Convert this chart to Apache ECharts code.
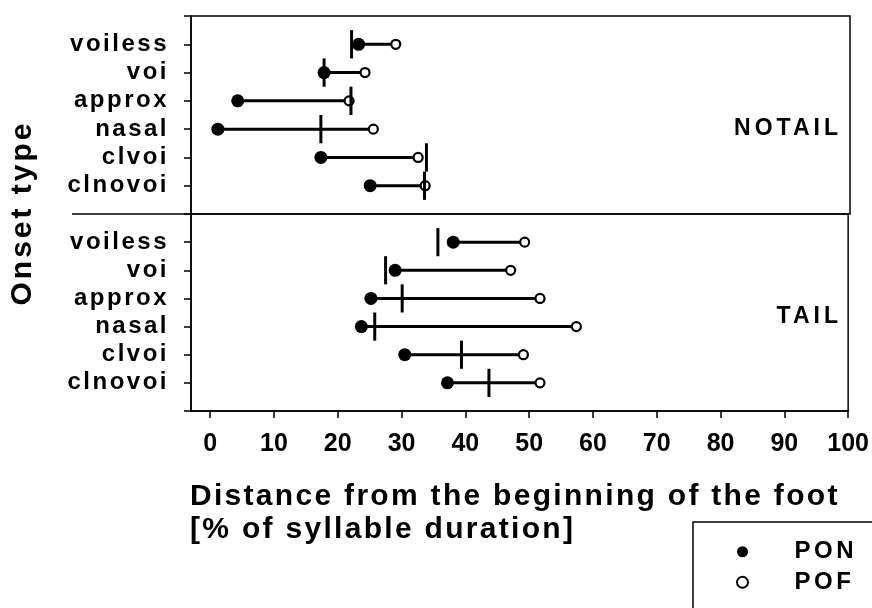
<!DOCTYPE html>
<html>
<head>
<meta charset="utf-8">
<script src="https://cdn.jsdelivr.net/npm/echarts@6/dist/echarts.min.js"></script>
<style>
html,body{margin:0;padding:0;background:#fff;}
#chart{width:872px;height:608px;}
</style>
</head>
<body>
<div id="chart"></div>
<script>
// Canvas letter spacing via a font-family marker (lsNN = NN/10 px)
(function(){
  var proto = CanvasRenderingContext2D.prototype;
  var d = Object.getOwnPropertyDescriptor(proto, 'font');
  if (!d || !('letterSpacing' in proto)) return;
  Object.defineProperty(proto, 'font', {
    configurable: true,
    get: function(){ return d.get.call(this); },
    set: function(v){
      d.set.call(this, v);
      var m = /\bls(\d+)\b/.exec(v);
      this.letterSpacing = m ? (m[1] / 10) + 'px' : '0px';
    }
  });
})();

// ---- data ----
var categories = ['voiless', 'voi', 'approx', 'nasal', 'clvoi', 'clnovoi'];
var notailPON = [23.2, 17.8, 4.3, 1.2, 17.3, 25.0];
var notailPOF = [29.0, 24.2, 21.7, 25.5, 32.5, 33.6];
var notailBar = [22.1, 17.8, 22.0, 17.3, 33.8, 33.5];
var tailPON = [38.1, 29.0, 25.2, 23.7, 30.5, 37.2];
var tailPOF = [49.3, 47.1, 51.7, 57.4, 49.1, 51.7];
var tailBar = [35.7, 27.5, 30.1, 25.8, 39.4, 43.7];
var xTicks = [0, 10, 20, 30, 40, 50, 60, 70, 80, 90, 100];
var panelNames = ['NOTAIL', 'TAIL'];

var FF = "'Liberation Sans', Arial, Helvetica";
function fam(ls){ return ls ? FF + ', ls' + ls + ', sans-serif' : FF + ', sans-serif'; }

var chart = echarts.init(document.getElementById('chart'), null, {renderer: 'canvas'});

function yAxisFor(gi){
  return {
    type: 'value', gridIndex: gi, min: 0, max: 7, interval: 1, inverse: true,
    axisLine: {show: true, onZero: false, lineStyle: {color: '#000', width: 1.5}},
    axisTick: {show: true, inside: false, length: 7, lineStyle: {color: '#000', width: 1.5}},
    splitLine: {show: false},
    axisLabel: {
      margin: 22, color: '#000', fontSize: 24, fontWeight: 'bold', fontFamily: fam(25),
      showMinLabel: true, showMaxLabel: true,
      formatter: function(v){ return (v >= 1 && v <= 6) ? categories[v - 1] : ''; }
    }
  };
}

function rangeSeries(gi, pon, pof){
  return {
    type: 'custom', name: 'range' + gi, xAxisIndex: gi, yAxisIndex: gi, z: 2,
    data: categories.map(function(c, i){ return [pon[i], pof[i], i + 1]; }),
    encode: {x: [0, 1], y: 2},
    renderItem: function(params, api){
      var y = api.value(2);
      var p1 = api.coord([api.value(0), y]);
      var p2 = api.coord([api.value(1), y]);
      return {type: 'line', shape: {x1: p1[0], y1: p1[1], x2: p2[0], y2: p2[1]},
              style: {stroke: '#000', lineWidth: 3}};
    }
  };
}
function barSeries(gi, bar){
  return {
    type: 'custom', name: 'mark' + gi, xAxisIndex: gi, yAxisIndex: gi, z: 5,
    data: categories.map(function(c, i){ return [bar[i], i + 1]; }),
    encode: {x: 0, y: 1},
    renderItem: function(params, api){
      var x = api.value(0), y = api.value(1);
      var p1 = api.coord([x, y - 0.5]);
      var p2 = api.coord([x, y + 0.5]);
      return {type: 'line', shape: {x1: p1[0], y1: p1[1], x2: p2[0], y2: p2[1]},
              style: {stroke: '#000', lineWidth: 3}};
    }
  };
}
function ponSeries(gi, pon){
  return {
    type: 'scatter', name: 'PON', xAxisIndex: gi, yAxisIndex: gi, z: 3,
    symbol: 'circle', symbolSize: 13,
    itemStyle: {color: '#000', opacity: 1},
    emphasis: {disabled: true},
    data: categories.map(function(c, i){ return [pon[i], i + 1]; })
  };
}
function pofSeries(gi, pof){
  return {
    type: 'scatter', name: 'POF', xAxisIndex: gi, yAxisIndex: gi, z: 4,
    symbol: 'circle', symbolSize: 9,
    itemStyle: {color: '#fff', borderColor: '#000', borderWidth: 2.2, opacity: 1},
    emphasis: {disabled: true},
    data: categories.map(function(c, i){ return [pof[i], i + 1]; })
  };
}

var option = {
  backgroundColor: '#fff',
  animation: false,
  grid: [
    {left: 191, top: 16, width: 659, height: 198, show: true, borderColor: '#000', borderWidth: 1.5, backgroundColor: 'transparent', containLabel: false},
    {left: 191, top: 214, width: 659, height: 197, show: true, borderColor: '#000', borderWidth: 1.5, backgroundColor: 'transparent', containLabel: false}
  ],
  xAxis: [
    {type: 'value', gridIndex: 0, min: -3, max: 100, show: false, splitLine: {show: false}},
    {type: 'value', gridIndex: 1, min: -3, max: 100, position: 'bottom',
     axisLine: {show: true, onZero: false, lineStyle: {color: '#000', width: 1.5}},
     axisTick: {show: true, inside: false, length: 7, customValues: xTicks, lineStyle: {color: '#000', width: 1.5}},
     splitLine: {show: false},
     axisLabel: {margin: 21, customValues: xTicks, color: '#000', fontSize: 25, fontWeight: 'bold', fontFamily: fam(0)}}
  ],
  yAxis: [yAxisFor(0), yAxisFor(1)],
  legend: {
    data: ['PON', 'POF'],
    orient: 'vertical', left: 693, top: 522, height: 300,
    padding: [16, 40, 40, 43],
    itemWidth: 14, itemHeight: 11, itemGap: 3,
    icon: 'circle',
    borderColor: '#000', borderWidth: 1.5, borderRadius: 0,
    selectedMode: false,
    textStyle: {fontSize: 24, fontWeight: 'bold', fontFamily: fam(35), color: '#000', padding: [0, 0, 0, 40]}
  },
  graphic: {elements: [
    {type: 'line', shape: {x1: 72, y1: 214, x2: 191, y2: 214}, style: {stroke: '#000', lineWidth: 1.5}},
    {type: 'text', x: 842, y: 129, style: {text: panelNames[0], fontSize: 23, fontWeight: 'bold', fontFamily: fam(40), fill: '#000', align: 'right', verticalAlign: 'middle'}},
    {type: 'text', x: 842, y: 317, style: {text: panelNames[1], fontSize: 23, fontWeight: 'bold', fontFamily: fam(40), fill: '#000', align: 'right', verticalAlign: 'middle'}},
    {type: 'text', x: 23, y: 213, rotation: Math.PI / 2, style: {text: 'Onset type', fontSize: 30, fontWeight: 'bold', fontFamily: fam(30), fill: '#000', align: 'center', verticalAlign: 'middle'}},
    {type: 'text', x: 190, y: 480, style: {text: 'Distance from the beginning of the foot\n[% of syllable duration]', fontSize: 30, lineHeight: 33, fontWeight: 'bold', fontFamily: fam(23), fill: '#000', align: 'left', verticalAlign: 'top'}}
  ]},
  series: [
    rangeSeries(0, notailPON, notailPOF), ponSeries(0, notailPON), pofSeries(0, notailPOF), barSeries(0, notailBar),
    rangeSeries(1, tailPON, tailPOF), ponSeries(1, tailPON), pofSeries(1, tailPOF), barSeries(1, tailBar)
  ]
};
chart.setOption(option);
</script>
</body>
</html>
